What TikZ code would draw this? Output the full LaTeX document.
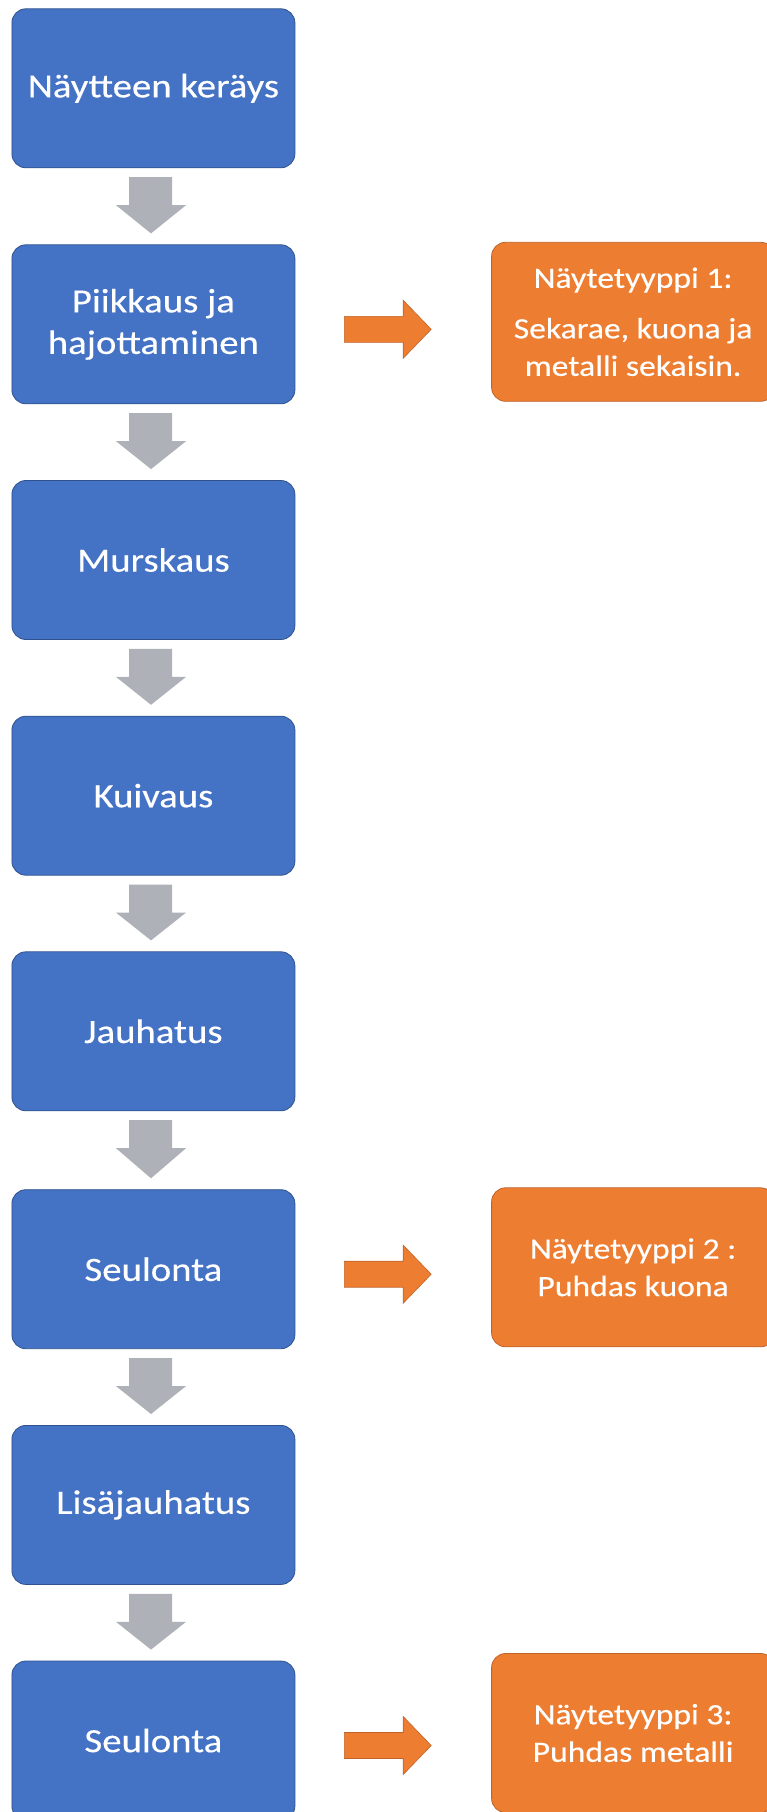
\documentclass[tikz,border=0pt]{standalone}
\usepackage{fontspec}
\setmainfont{Carlito}[FakeStretch=1.14,FakeBold=0.3]
\usetikzlibrary{calc}
\definecolor{boxblue}{HTML}{4472C4}
\definecolor{boxblueline}{HTML}{2F528F}
\definecolor{boxorange}{HTML}{ED7D31}
\definecolor{boxorangeline}{HTML}{C0632A}
\definecolor{arrgray}{HTML}{AEB1B7}
\tikzset{
  bluebox/.style={draw=boxblueline, line width=0.8pt, fill=boxblue, rounded corners=14pt,
    minimum width=283pt, minimum height=159pt, inner sep=0pt, align=center, text=white,
    font=\fontsize{34}{41.5}\selectfont},
  orangebox/.style={draw=boxorangeline, line width=0.8pt, fill=boxorange, rounded corners=14pt,
    minimum width=283pt, minimum height=159pt, inner sep=0pt, align=center, text=white,
    font=\fontsize{29.5}{37.5}\selectfont},
  grayarrow/.style={fill=arrgray},
  orangearrow/.style={fill=boxorange, draw=boxorangeline, line width=0.6pt},
}
\newcommand{\downconn}[2]{%
  \fill[grayarrow] ($(#1.south)+(-24.4,9)$) -- ($(#1.south)+(18.6,9)$) -- ($(#1.south)+(18.6,37)$)
    -- ($(#1.south)+(32.6,37)$) -- ($(#2.north)+(-2.4,-11)$) -- ($(#1.south)+(-37.4,37)$)
    -- ($(#1.south)+(-24.4,37)$) -- cycle;}
\newcommand{\sideconn}[2]{%
  \coordinate (sA) at ($(#1.east)+(49,5)$);
  \coordinate (sT) at ($(#2.west)+(-60,0)$);
  \coordinate (sB) at (sT |- sA);
  \filldraw[orangearrow] ($(sA)+(0,-13)$) -- ($(sB)+(-28,-13)$) -- ($(sB)+(-28,-29)$) -- (sB)
    -- ($(sB)+(-28,29)$) -- ($(sB)+(-28,13)$) -- ($(sA)+(0,13)$) -- cycle;}
\begin{document}
\begin{tikzpicture}[x=1pt,y=-1pt]
\useasboundingbox (0,0) rectangle (767,1812);
\fill[white] (0,0) rectangle (767,1812);
\clip (0,0) rectangle (767,1812);
\node[bluebox] (b1) at (153.4,88.3) {Näytteen keräys};
\node[bluebox] (b2) at (153.4,324.3) {Piikkaus ja\\hajottaminen};
\node[bluebox] (b3) at (153.4,560) {Murskaus};
\node[bluebox] (b4) at (153.4,795.7) {Kuivaus};
\node[bluebox] (b5) at (153.4,1031.3) {Jauhatus};
\node[bluebox] (b6) at (153.4,1269.2) {Seulonta};
\node[bluebox] (b7) at (153.4,1504.9) {Lisäjauhatus};
\node[bluebox] (b8) at (153.4,1740.5) {Seulonta};
\node[orangebox] (o1) at (633.1,321.8) {Näytetyyppi 1:\\[13pt]Sekarae, kuona ja\\metalli sekaisin.};
\node[orangebox] (o2) at (633.1,1267.3) {Näytetyyppi 2 :\\Puhdas kuona};
\node[orangebox] (o3) at (633.1,1733) {Näytetyyppi 3:\\Puhdas metalli};
\downconn{b1}{b2}
\downconn{b2}{b3}
\downconn{b3}{b4}
\downconn{b4}{b5}
\downconn{b5}{b6}
\downconn{b6}{b7}
\downconn{b7}{b8}
\sideconn{b2}{o1}
\sideconn{b6}{o2}
\sideconn{b8}{o3}
\end{tikzpicture}
\end{document}
